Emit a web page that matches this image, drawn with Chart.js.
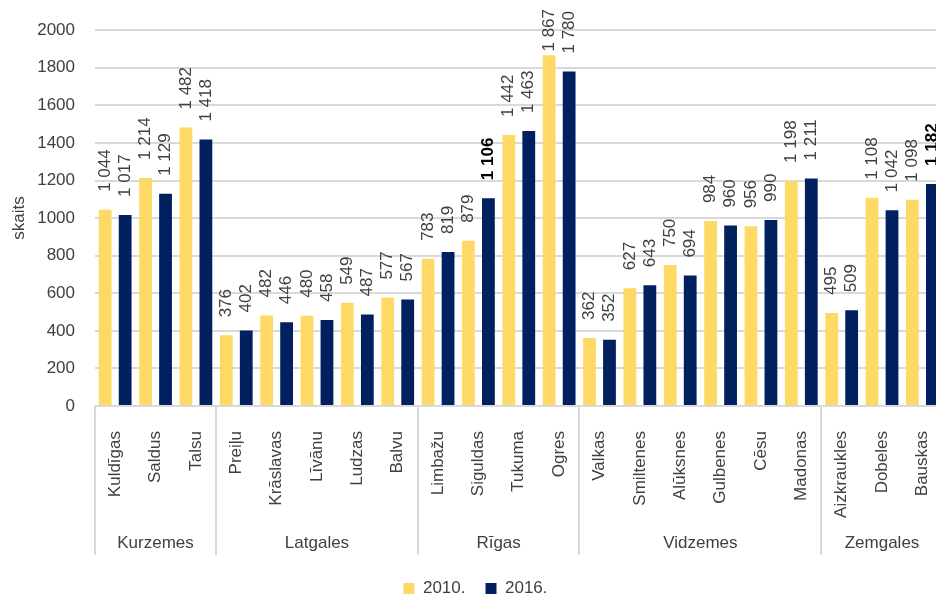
<!DOCTYPE html>
<html>
<head>
<meta charset="utf-8">
<script src="https://cdn.jsdelivr.net/npm/chart.js@4"></script>
<style>
  html, body { margin: 0; padding: 0; background: #fff; overflow: hidden; }
  #wrap { position: relative; width: 960px; height: 596px; }
</style>
</head>
<body>
<div id="wrap"><canvas id="c"></canvas></div>
<script>
const categories = ['Kuldīgas','Saldus','Talsu','Preiļu','Krāslavas','Līvānu','Ludzas','Balvu','Limbažu','Siguldas','Tukuma','Ogres','Valkas','Smiltenes','Alūksnes','Gulbenes','Cēsu','Madonas','Aizkraukles','Dobeles','Bauskas'];
const regions = ['Kurzemes','Latgales','Rīgas','Vidzemes','Zemgales'];
const regionSizes = [3, 5, 4, 6, 3];
const values2010 = [1044, 1214, 1482, 376, 482, 480, 549, 577, 783, 879, 1442, 1867, 362, 627, 750, 984, 956, 1198, 495, 1108, 1098];
const values2016 = [1017, 1129, 1418, 402, 446, 458, 487, 567, 819, 1106, 1463, 1780, 352, 643, 694, 960, 990, 1211, 509, 1042, 1182];
const boldLabels2016 = ['Siguldas', 'Bauskas'];
const seriesNames = ['2010.', '2016.'];
const yTicks = [0, 200, 400, 600, 800, 1000, 1200, 1400, 1600, 1800, 2000];

const FONT = "'Liberation Sans', Arial, sans-serif";
const FS = 17;
const TXT = '#404040';

function fmt(v) {
  return String(v).replace(/\B(?=(\d{3})+(?!\d))/g, ' ');
}

const dataLabelPlugin = {
  id: 'dataLabels',
  afterDatasetsDraw(chart) {
    const ctx = chart.ctx;
    chart.data.datasets.forEach((ds, di) => {
      const meta = chart.getDatasetMeta(di);
      meta.data.forEach((bar, i) => {
        const bold = di === 1 && boldLabels2016.includes(categories[i]);
        const txt = fmt(ds.data[i]);
        ctx.save();
        ctx.font = (bold ? 'bold ' : '') + FS + 'px ' + FONT;
        ctx.fillStyle = bold ? '#000' : TXT;
        ctx.textAlign = 'left';
        ctx.textBaseline = 'middle';
        const w = ctx.measureText(txt).width;
        let startY = bar.y - 18;
        if (startY - w < 9) startY = Math.min(bar.y - 1, 9 + w);
        ctx.translate(bar.x, startY);
        ctx.rotate(-Math.PI / 2);
        ctx.fillText(txt, 0, 0);
        ctx.restore();
      });
    });
  }
};

const groupPlugin = {
  id: 'groups',
  afterDraw(chart) {
    const ctx = chart.ctx;
    const xs = chart.scales.x;
    const cw = xs.getPixelForValue(1) - xs.getPixelForValue(0);
    const top = xs.top;
    ctx.save();
    ctx.strokeStyle = '#d9d9d9';
    ctx.lineWidth = 2;
    ctx.font = FS + 'px ' + FONT;
    ctx.fillStyle = TXT;
    ctx.textAlign = 'center';
    ctx.textBaseline = 'middle';
    let start = 0;
    regions.forEach((r, gi) => {
      const n = regionSizes[gi];
      const x0 = xs.getPixelForValue(start) - cw / 2;
      const x1 = xs.getPixelForValue(start + n - 1) + cw / 2;
      ctx.beginPath();
      ctx.moveTo(Math.round(x0), top);
      ctx.lineTo(Math.round(x0), top + 149);
      ctx.stroke();
      ctx.fillText(r, (x0 + x1) / 2, top + 137);
      start += n;
    });
    ctx.restore();
  }
};

new Chart(document.getElementById('c'), {
  type: 'bar',
  data: {
    labels: categories,
    datasets: [
      { label: seriesNames[0], data: values2010, backgroundColor: '#FFD966', categoryPercentage: 0.99, barPercentage: 0.64 },
      { label: seriesNames[1], data: values2016, backgroundColor: '#002060', categoryPercentage: 0.99, barPercentage: 0.64 }
    ]
  },
  options: {
    responsive: true,
    maintainAspectRatio: false,
    animation: false,
    layout: { padding: { top: 30, right: 9, left: 0, bottom: -11 } },
    plugins: {
      legend: {
        position: 'bottom',
        labels: { boxWidth: 11, boxHeight: 11, padding: 20, color: TXT, font: { family: FONT, size: FS } }
      },
      tooltip: { enabled: false }
    },
    scales: {
      x: {
        grid: { display: false },
        border: { display: false },
        ticks: { autoSkip: false, minRotation: 90, maxRotation: 90, padding: 17, color: TXT, font: { family: FONT, size: FS } },
        afterFit(s) { s.height = 154; }
      },
      y: {
        min: 0, max: 2000,
        afterBuildTicks(s) { s.ticks = yTicks.map(v => ({ value: v })); },
        grid: { color: '#d9d9d9', lineWidth: 2, drawTicks: false },
        border: { display: false },
        ticks: { padding: 20, color: TXT, font: { family: FONT, size: FS }, callback: v => String(v) },
        title: { display: true, text: 'skaits', color: TXT, font: { family: FONT, size: FS }, padding: { top: 9, bottom: 0 } },
        afterFit(s) { s.width = 95; }
      }
    }
  },
  plugins: [dataLabelPlugin, groupPlugin]
});
</script>
</body>
</html>
